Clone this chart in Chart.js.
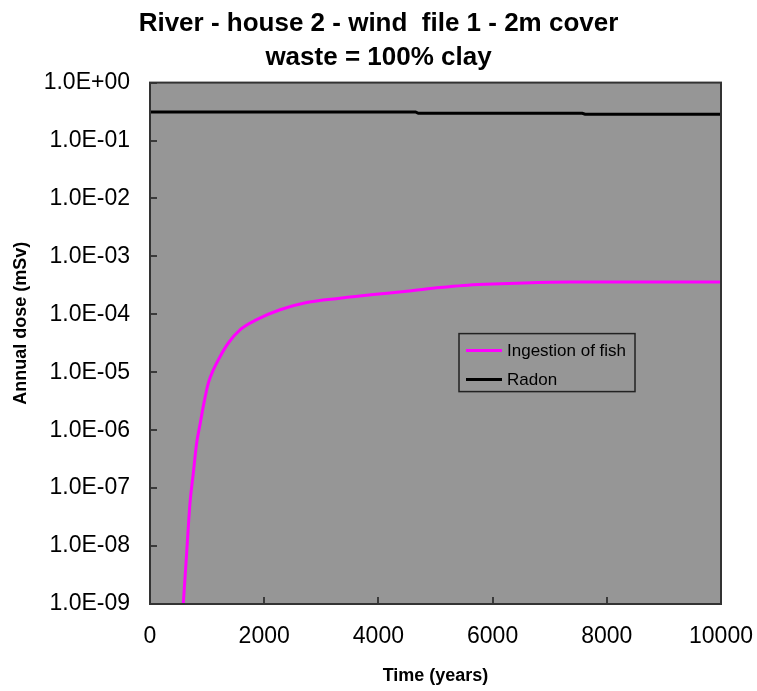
<!DOCTYPE html>
<html>
<head>
<meta charset="utf-8">
<script src="https://cdn.jsdelivr.net/npm/chart.js@4.4.1/dist/chart.umd.min.js"></script>
<style>
  html, body { margin: 0; padding: 0; background: #fff; }
  canvas { display: block; }
</style>
</head>
<body>
<canvas id="doseChart" width="757" height="691"></canvas>
<script>
// values
const fishYears = [583, 642, 700, 758, 817, 876, 934, 1021, 1109, 1226, 1372, 1576, 1868, 2277,
    2744, 3327, 3911, 4495, 5079, 5487, 5867, 6422, 7355, 10000];
const fishDose = [1.0e-9, 7.6e-9, 5.5e-8, 1.8e-7, 6.0e-7, 1.26e-6, 2.6e-6, 6.5e-6, 1.1e-5, 1.86e-5,
    3.2e-5, 5.4e-5, 8.1e-5, 1.2e-4, 1.6e-4, 1.9e-4, 2.2e-4, 2.5e-4, 2.9e-4, 3.15e-4, 3.3e-4,
    3.45e-4, 3.6e-4, 3.6e-4];

const radonYears = [0, 4650, 4700, 7570, 7620, 10000];
const radonDose = [0.312, 0.312, 0.295, 0.295, 0.284, 0.284];

const xTicks = [0, 2000, 4000, 6000, 8000, 10000];
const yTicks = [1, 1e-1, 1e-2, 1e-3, 1e-4, 1e-5, 1e-6, 1e-7, 1e-8, 1e-9];

const FONT = 'Arial, "Liberation Sans", sans-serif';

function fmtExp(v) {
    const e = Math.round(Math.log10(v));
    const m = v / Math.pow(10, e);
    const sign = e < 0 ? '-' : '+';
    return m.toFixed(1) + 'E' + sign + String(Math.abs(e)).padStart(2, '0');
}

// gray plot background, frame, inward tick marks and the boxed legend
const plotDecor = {
    id: 'plotDecor',
    beforeDatasetsDraw(chart) {
        const { ctx, chartArea: a } = chart;
        ctx.save();
        ctx.fillStyle = '#969696';
        ctx.fillRect(a.left, a.top, a.right - a.left, a.bottom - a.top);
        ctx.restore();
    },
    afterDatasetsDraw(chart) {
        const { ctx, chartArea: a, scales } = chart;
        ctx.save();
        ctx.strokeStyle = '#3a3a3a';
        ctx.lineWidth = 2;
        ctx.beginPath();
        yTicks.forEach(v => {
            const y = Math.round(scales.y.getPixelForValue(v));
            ctx.moveTo(a.left, y);
            ctx.lineTo(a.left + 7, y);
        });
        xTicks.forEach(v => {
            const x = Math.round(scales.x.getPixelForValue(v));
            ctx.moveTo(x, a.bottom);
            ctx.lineTo(x, a.bottom - 7);
        });
        ctx.stroke();

        ctx.strokeStyle = '#333';
        ctx.lineWidth = 2;
        ctx.strokeRect(a.left, a.top, a.right - a.left, a.bottom - a.top);
        ctx.restore();
    },
    afterDraw(chart) {
        const { ctx, chartArea: a } = chart;
        const bx = a.left + 309, by = a.top + 251, bw = 176, bh = 58;
        ctx.save();
        ctx.strokeStyle = '#222';
        ctx.lineWidth = 1.5;
        ctx.strokeRect(bx, by, bw, bh);
        ctx.font = '17px ' + FONT;
        ctx.textBaseline = 'middle';
        chart.data.datasets.forEach((ds, i) => {
            const y = by + 17 + i * 29;
            ctx.strokeStyle = ds.borderColor;
            ctx.lineWidth = 3;
            ctx.beginPath();
            ctx.moveTo(bx + 7, y);
            ctx.lineTo(bx + 43, y);
            ctx.stroke();
            ctx.fillStyle = '#000';
            ctx.fillText(ds.label, bx + 48, y + 1);
        });
        ctx.restore();
    }
};

new Chart(document.getElementById('doseChart'), {
    type: 'scatter',
    data: {
        datasets: [
            {
                label: 'Ingestion of fish',
                data: fishYears.map((t, i) => ({ x: t, y: fishDose[i] })),
                borderColor: '#ff00ff',
                borderWidth: 3,
                showLine: true,
                pointRadius: 0,
                cubicInterpolationMode: 'monotone'
            },
            {
                label: 'Radon',
                data: radonYears.map((t, i) => ({ x: t, y: radonDose[i] })),
                borderColor: '#000000',
                borderWidth: 3,
                showLine: true,
                pointRadius: 0
            }
        ]
    },
    options: {
        responsive: false,
        animation: false,
        layout: { padding: { left: 36, right: 36, top: 0, bottom: 0 } },
        plugins: {
            legend: { display: false },
            tooltip: { enabled: false },
            title: {
                display: true,
                text: ['River - house 2 - wind  file 1 - 2m cover', 'waste = 100% clay'],
                color: '#000',
                font: { family: FONT, size: 26, weight: 'bold', lineHeight: 1.3 },
                padding: { top: 7, bottom: 8 }
            }
        },
        scales: {
            x: {
                type: 'linear',
                min: 0,
                max: 10000,
                afterBuildTicks: s => { s.ticks = xTicks.map(v => ({ value: v })); },
                ticks: {
                    color: '#000',
                    font: { family: FONT, size: 23 },
                    padding: 19,
                    maxRotation: 0,
                    callback: v => String(v)
                },
                grid: { display: false, drawTicks: false },
                border: { display: false },
                title: {
                    display: true,
                    text: 'Time (years)',
                    color: '#000',
                    font: { family: FONT, size: 18, weight: 'bold' },
                    padding: { bottom: 4 }
                },
                afterFit: s => { s.height = 87; s.paddingLeft = 0; s.paddingRight = 0; }
            },
            y: {
                type: 'logarithmic',
                min: 1e-9,
                max: 1,
                afterBuildTicks: s => { s.ticks = yTicks.map(v => ({ value: v })); },
                ticks: {
                    color: '#000',
                    font: { family: FONT, size: 23 },
                    padding: 20,
                    callback: v => fmtExp(v)
                },
                grid: { display: false, drawTicks: false },
                border: { display: false },
                title: {
                    display: true,
                    text: '        Annual dose (mSv)',
                    color: '#000',
                    font: { family: FONT, size: 18, weight: 'bold' },
                    padding: { top: -26 }
                },
                afterFit: s => { s.width = 114; s.paddingTop = 0; s.paddingBottom = 0; }
            }
        }
    },
    plugins: [plotDecor]
});
</script>
</body>
</html>
